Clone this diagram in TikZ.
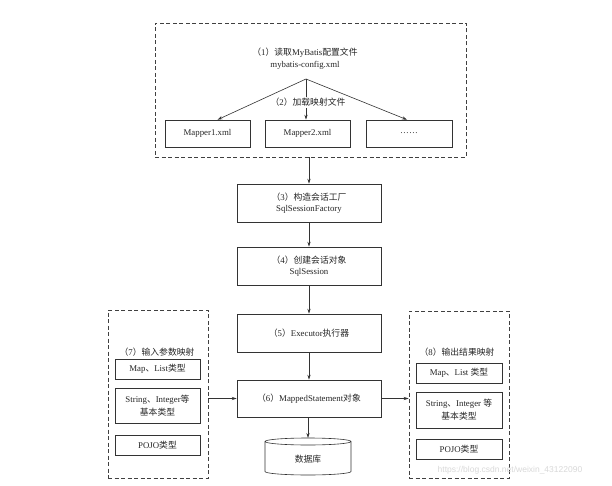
\documentclass[tikz,border=0pt]{standalone}
\usepackage{fontspec}
\setmainfont{Liberation Serif}
\newfontfamily\cjk{Noto Sans CJK SC}
\newfontfamily\wmfont{Liberation Sans}
\usetikzlibrary{arrows.meta,calc}
\begin{document}
\begin{tikzpicture}[x=1pt,y=-1pt,
  every node/.style={font=\fontsize{8.8}{11.5}\selectfont, text=black!85},
  line/.style={draw=black!80, line width=0.6pt},
  arr/.style={line, -{Stealth[length=5pt,width=3.2pt]}},
  box/.style={line, rectangle, inner sep=0pt, align=center},
  dbox/.style={draw=black!75, line width=0.8pt, dash pattern=on 4pt off 2.5pt, rectangle, inner sep=0pt},
  lbl/.style={inner sep=1pt, align=center},
  twoline/.style={font=\fontsize{8.8}{13}\selectfont}]
\useasboundingbox (0,0) rectangle (612,486);
\fill[white] (0,0) rectangle (612,486);

% top group
\node[dbox, minimum width=311pt, minimum height=134pt] (cfg) at (310.5,90) {};
\node[lbl] (t1) at (305,58.5) {{\cjk （}1{\cjk ）读取}MyBatis{\cjk 配置文件}\\mybatis-config.xml};
\coordinate (br) at (306,79);
\node[box, minimum width=85pt, minimum height=27pt] (m1) at (207.5,133.5) {Mapper1.xml};
\node[box, minimum width=85pt, minimum height=27pt] (m2) at (307.5,133.5) {Mapper2.xml};
\node[box, minimum width=86pt, minimum height=27pt] (m3) at (409,133.5) {……};
\draw[arr] (br) -- ([xshift=10pt]m1.north);
\draw[arr] (br) -- (br |- m2.north);
\draw[arr] (br) -- ([xshift=-2pt]m3.north);
\node[lbl, fill=white] (t2) at (308,102.5) {{\cjk （}2{\cjk ）加载映射文件}};

% main column
\node[box, minimum width=144pt, minimum height=38pt] (b3) at (309,203) {{\cjk （}3{\cjk ）构造会话工厂}\\SqlSessionFactory};
\node[box, minimum width=144pt, minimum height=38pt] (b4) at (309,266) {{\cjk （}4{\cjk ）创建会话对象}\\SqlSession};
\node[box, minimum width=144pt, minimum height=38pt] (b5) at (309,333) {{\cjk （}5{\cjk ）}Executor{\cjk 执行器}};
\node[box, minimum width=144pt, minimum height=37pt] (b6) at (309,398.5) {{\cjk （}6{\cjk ）}MappedStatement{\cjk 对象}};

% database cylinder
\draw[line, fill=white] (265,441.5) -- (265,471.5) arc[start angle=180, end angle=360, x radius=43pt, y radius=3.5pt] -- (351,441.5);
\draw[line, fill=white] (308,441.5) ellipse[x radius=43pt, y radius=3.5pt];
\node[lbl] (db) at (308,459) {\cjk 数据库};
\coordinate (dbtop) at (308,438);

\draw[arr] (cfg.south -| b3.north) -- (b3.north);
\draw[arr] (b3.south) -- (b4.north);
\draw[arr] (b4.south) -- (b5.north);
\draw[arr] (b5.south) -- (b6.north);
\draw[arr] ([xshift=-1pt]b6.south) -- (dbtop);

% left group
\node[dbox, minimum width=100pt, minimum height=168pt] (ld) at (158,394) {};
\node[lbl] (t7) at (157,352) {{\cjk （}7{\cjk ）输入参数映射}};
\node[box, minimum width=85pt, minimum height=20pt] (lmap) at (157.5,369) {Map{\cjk 、}List{\cjk 类型}};
\node[box, twoline, minimum width=85pt, minimum height=35pt] (lstr) at (157.5,405.5) {String{\cjk 、}Integer{\cjk 等}\\{\cjk 基本类型}};
\node[box, minimum width=85pt, minimum height=20pt] (lpojo) at (157.5,445) {POJO{\cjk 类型}};

% right group
\node[dbox, minimum width=100pt, minimum height=167pt] (rd) at (459,394.5) {};
\node[lbl] (t8) at (457,352) {{\cjk （}8{\cjk ）输出结果映射}};
\node[box, minimum width=86pt, minimum height=20pt] (rmap) at (459,373) {Map{\cjk 、}List {\cjk 类型}};
\node[box, twoline, minimum width=86pt, minimum height=36pt] (rstr) at (459,410) {String{\cjk 、}Integer {\cjk 等}\\{\cjk 基本类型}};
\node[box, minimum width=86pt, minimum height=20pt] (rpojo) at (459,449) {POJO{\cjk 类型}};

\draw[arr] (ld.east |- b6.west) -- (b6.west);
\draw[arr] (b6.east) -- (rd.west |- b6.east);

% watermark
\node[font=\wmfont\fontsize{8.5}{10}\selectfont, text=black!15, inner sep=0pt] (wm) at (510,470) {https://blog.csdn.net/weixin\_43122090};
\end{tikzpicture}
\end{document}
